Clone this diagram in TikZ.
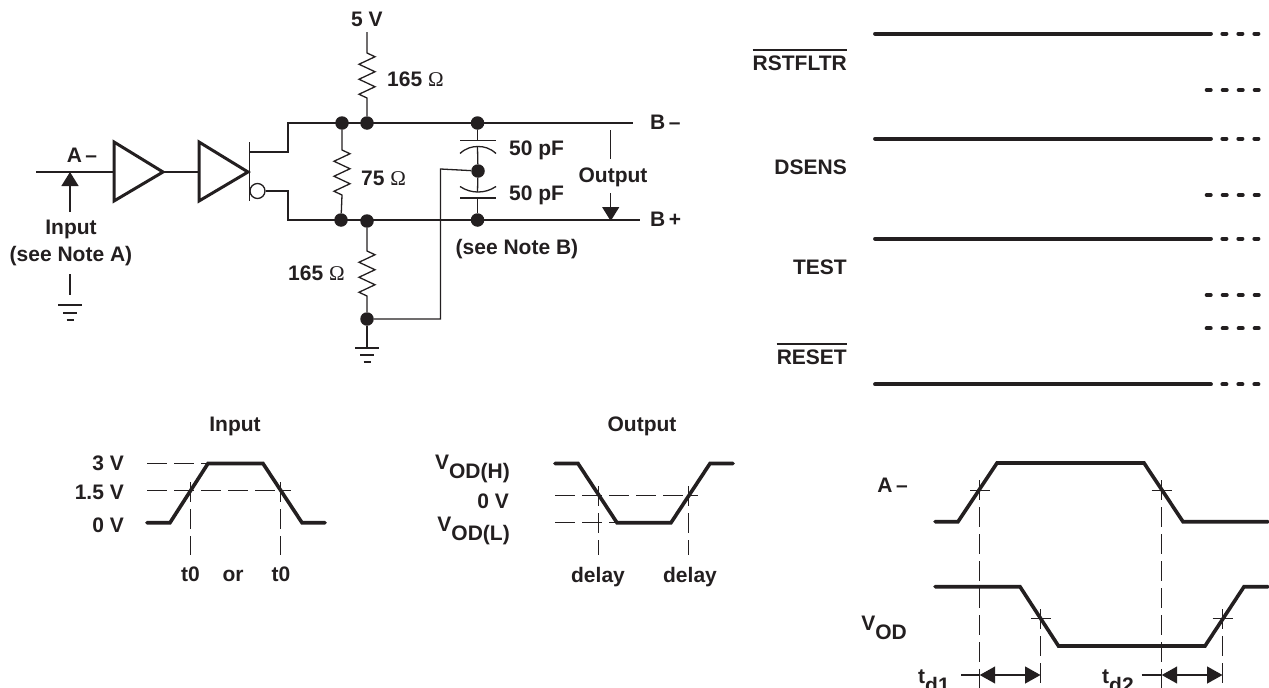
\documentclass[tikz,border=0pt]{standalone}
\usepackage{fontspec}
\setmainfont{Liberation Sans}
\newfontfamily\omgfont{Liberation Serif}
\usetikzlibrary{arrows.meta}
\definecolor{ink}{HTML}{231F20}
\newcommand{\ohm}{{\omgfont\mdseries Ω}}
\newcommand{\lowsub}[2]{#1\raisebox{-8.5pt}{#2}}
\tikzset{
  x=1pt,y=-1pt,
  wire/.style={line width=1.3pt,draw=ink},
  heavy/.style={line width=3.6pt,draw=ink,line join=miter},
  thick tri/.style={line width=3pt,draw=ink,line join=miter},
  guide/.style={line width=1pt,draw=ink,dash pattern=on 20pt off 7pt},
  tickmark/.style={line width=1pt,draw=ink},
  dot/.style={circle,fill=ink,draw=none,inner sep=0pt,minimum size=13.5pt},
  lab/.style={font=\fontsize{21}{24}\selectfont\bfseries,text=ink,inner sep=0pt,text height=15pt,text depth=0pt},
  labw/.style={lab,anchor=west},
  labe/.style={lab,anchor=east},
  sig/.style={line width=3.8pt,draw=ink,line cap=round},
  sigdash/.style={line width=3.8pt,draw=ink,line cap=round,dash pattern=on 4.2pt off 11.8pt},
  zz/.style={insert path={-- ++(8,3.75) -- ++(-16,7.5) -- ++(16,7.5) -- ++(-16,7.5) -- ++(16,7.5) -- ++(-16,7.5) -- ++(8,3.75)}},
  bigtip/.style={-{Triangle[length=14pt,width=17pt]}},
  bartip/.style={{Triangle[length=15.5pt,width=17pt]}-{Triangle[length=15.5pt,width=17pt]}},
}
\begin{document}
\begin{tikzpicture}
\useasboundingbox (0,0) rectangle (1269,688);
\clip (0,0) rectangle (1269,688);
% ---------- circuit: buffers
\coordinate (inl) at (36,172);
\coordinate (inj) at (70,172);
\coordinate (b1i) at (114,172);
\coordinate (b1o) at (163,172);
\coordinate (b2i) at (199,172);
\coordinate (b2o) at (248,172);
\draw[thick tri] (114,142) -- (163,172) -- (114,201) -- cycle;
\draw[thick tri] (199,142) -- (248,172) -- (199,201) -- cycle;
\draw[wire] (inl) -- (b1i);
\draw[wire] (b1o) -- (b2i);
\draw[wire] (249.5,142) -- (249.5,201);
\node[circle,draw=ink,line width=1.3pt,fill=white,inner sep=0pt,minimum size=15pt] (bub) at (257.5,191) {};
% nodes on the rails
\node[dot] (t1) at (342,123) {};
\node[dot] (t2) at (367,123) {};
\node[dot] (t3) at (477.5,123) {};
\node[dot] (l1) at (341,220) {};
\node[dot] (l2) at (367,221) {};
\node[dot] (l3) at (477.5,220) {};
\node[dot] (gn) at (367,319) {};
\node[dot] (mid) at (478,171) {};
\coordinate (tq) at (250,152);
\coordinate (railt) at (633,123);
\coordinate (railb) at (640,220);
\draw[wire] (tq) -| (288,123) -- (railt);
\draw[wire] (bub.east) -| (288,220) -- (railb);
% 5 V resistor
\node[lab] (v5) at (367,19) {5 V};
\coordinate (r1t) at (367,53);
\draw[wire] (367,32) -- (r1t) [zz] -- (t2);
% 75 ohm
\coordinate (r2t) at (342,150);
\draw[wire] (t1) -- (r2t) [zz] -- (l1);
% lower 165 ohm
\coordinate (r3t) at (367,251);
\draw[wire] (l2) -- (r3t) [zz] -- (gn);
% ground of the circuit
\coordinate (g1) at (367,348);
\draw[wire] (gn) -- (g1);
\draw[wire] (355,348) -- (379,348);
\draw[wire] (360,355) -- (374,355);
\draw[wire] (363.5,362) -- (370.5,362);
% return wire
\draw[wire] (gn) -| (440.5,169) -- (mid);
% capacitors
\coordinate (c1a) at (477.5,140.5);
\coordinate (c1b) at (477.5,147);
\coordinate (c2a) at (477.5,198);
\coordinate (c2b) at (477.5,192);
\draw[wire] (t3) -- (c1a);
\draw[wire] (460,140.5) -- (496,140.5);
\draw[wire] (460,153.5) .. controls (466,148) and (472,146.5) .. (478,146.5) .. controls (484,146.5) and (490,148) .. (496,153.5);
\draw[wire] (c1b) -- (mid);
\draw[wire] (mid) -- (c2b);
\draw[wire] (460,186.5) .. controls (466,190.5) and (472,192) .. (478,192) .. controls (484,192) and (490,190.5) .. (496,186.5);
\draw[wire] (460,198) -- (496,198);
\draw[wire] (c2a) -- (l3);
% output arrow
\node[lab] (outl) at (613,175) {Output};
\draw[wire] (610.7,130) -- (610.7,159);
\coordinate (outa) at (610.7,193);
\coordinate (outb) at (610.7,221);
\draw[wire,bigtip] (outa) -- (outb);
% input arrow and ground
\node[lab] (a1) at (82,155) {A\,–};
\node[lab] (inl1) at (71,227) {Input};
\node[lab] (inl2) at (71,254) {(see Note A)};
\coordinate (ina) at (70,212);
\draw[wire,bigtip] (ina) -- (inj);
\coordinate (ig) at (70,274);
\coordinate (ig2) at (70,295);
\draw[wire] (ig) -- (ig2);
\draw[wire] (58,305) -- (82,305);
\draw[wire] (63,313) -- (77,313);
\draw[wire] (66.5,320) -- (73.5,320);
% circuit labels
\node[labw] (r1l) at (387,79) {165 \ohm};
\node[labw] (r2l) at (361,178) {75 \ohm};
\node[labw] (r3l) at (288,273) {165 \ohm};
\node[labw] (c1l) at (509,148) {50 pF};
\node[labw] (c2l) at (509,193) {50 pF};
\node[lab] (nb) at (517,247) {(see Note B)};
\node[labw] (bm) at (650,122) {B\,–};
\node[labw] (bp) at (650,219) {B\,+};
% ---------- Input waveform
\node[lab] (ttl1) at (235,424) {Input};
\node[labe] (v3) at (124,463) {3 V};
\node[labe] (v15) at (124,492) {1.5 V};
\node[labe] (v0) at (124,525) {0 V};
\draw[guide] (147,463.5) -- (208,463.5);
\draw[guide] (147,490.7) -- (291,490.7);
\draw[guide] (190.5,482) -- (190.5,555);
\draw[guide] (280.5,482) -- (280.5,555);
\draw[heavy,line cap=round] (147,522.7) -- (170,522.7) -- (208,463.5) -- (263,463.5) -- (302,522.7) -- (325,522.7);
\node[lab] (t0a) at (190.5,574) {t0};
\node[lab] (orl) at (233,574) {or};
\node[lab] (t0b) at (281,574) {t0};
% ---------- Output waveform
\node[lab] (ttl2) at (642,424) {Output};
\node[labe] (vh) at (510,462) {\lowsub{V}{OD(H)}};
\node[labe] (vz) at (509,501) {0 V};
\node[labe] (vl) at (510,524) {\lowsub{V}{OD(L)}};
\draw[guide] (555,495.7) -- (698,495.7);
\draw[guide] (555,522.7) -- (617,522.7);
\draw[guide] (598.5,486) -- (598.5,555);
\draw[guide] (688.5,486) -- (688.5,555);
\draw[heavy,line cap=round] (555,463.5) -- (578,463.5) -- (617,522.7) -- (671,522.7) -- (710,463.5) -- (733,463.5);
\node[lab] (d1) at (598,575) {delay};
\node[lab] (d2) at (690,575) {delay};
% ---------- right timing
\node[labe] (am) at (908,485) {A\,–};
\node[labe] (vd) at (907,623) {\lowsub{V}{OD}};
\draw[heavy,line cap=round] (935,521.7) -- (958,521.7) -- (997,463) -- (1144,463) -- (1183,521.7) -- (1268,521.7);
\draw[heavy,line cap=round] (935,586.7) -- (1020,586.7) -- (1058.5,646) -- (1205,646) -- (1244,586.7) -- (1268,586.7);
\draw[tickmark] (970,490) -- (990,490);
\draw[tickmark] (1151.5,490) -- (1171.5,490);
\draw[tickmark] (1031,618.7) -- (1051,618.7);
\draw[tickmark] (1212.5,618.7) -- (1232.5,618.7);
\coordinate (m1) at (979.7,675);
\coordinate (m2) at (1040.5,675);
\coordinate (m3) at (1161.7,675);
\coordinate (m4) at (1222.5,675);
\draw[guide] (979.7,480) -- (979.7,688);
\draw[guide] (1161.7,480) -- (1161.7,688);
\draw[guide] (1040.5,609) -- (1040.5,688);
\draw[guide] (1222.5,609) -- (1222.5,688);
\draw[wire,bartip] (m1) -- (m2);
\draw[wire,bartip] (m3) -- (m4);
\draw[wire] (961,675) -- (m1);
\draw[wire] (1141.7,675) -- (m3);
\node[labw] (td1) at (918,676) {\lowsub{t}{d1}};
\node[labw] (td2) at (1102,676) {\lowsub{t}{d2}};
% ---------- right levels
\node[labe] (s1) at (847,63) {RSTFLTR};
\node[labe] (s2) at (847,167) {DSENS};
\node[labe] (s3) at (847,267) {TEST};
\node[labe] (s4) at (847,357) {RESET};
\draw[line width=2.2pt,draw=ink] (s1.west |- 0,50.3) -- (847,50.3);
\draw[line width=2.2pt,draw=ink] (s4.west |- 0,344) -- (847,344);
\foreach \yy in {33.7,138.7,238.7,384.3}{
  \draw[sig] (875,\yy) -- (1211,\yy);
  \draw[sigdash] (1222.3,\yy) -- (1262,\yy);
}
\foreach \yy in {90,195,295,328.3}{
  \draw[sigdash] (1206.6,\yy) -- (1262,\yy);
}
\end{tikzpicture}
\end{document}
